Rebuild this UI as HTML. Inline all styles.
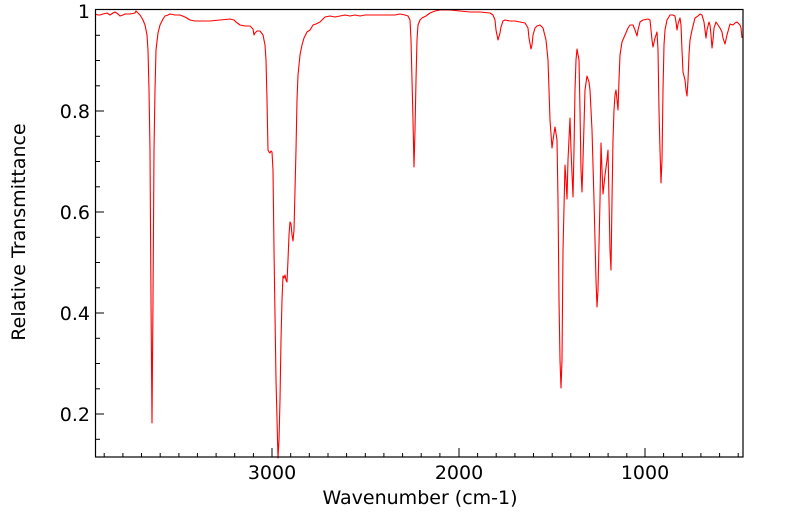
<!DOCTYPE html>
<html><head><meta charset="utf-8"><style>
html,body{margin:0;padding:0;background:#fff;}
svg{display:block;}
text{font-family:"DejaVu Sans","Liberation Sans",sans-serif;fill:#000;}
</style></head><body>
<svg width="799" height="516" viewBox="0 0 799 516" xmlns="http://www.w3.org/2000/svg">
<rect x="0" y="0" width="799" height="516" fill="#fff"/>
<polyline fill="none" stroke="#ff0000" stroke-width="1.1" stroke-linejoin="round" points="
95,14 98,15 100,15 103,14 107,13 110,15 113,13 115,12 118,14 120,16 123,15 125,14 130,14 135,13 136,11 138,13 140,15 143,20 145,25 147,35 148,50 149,90 150,150 151,300 152,423 153,300 154,150 155,90 156,50 158,33 160,25 163,19 165,16 168,15 170,14 175,15 180,15 185,17 190,20 195,21 200,21 210,21 220,20 230,19 234,20 236,22 240,25 245,26 250,26 253,29 254,35 255,33 257,31 260,31 263,35 265,45 266,60 267,100 268,150 269,152 270,153 271,151 272,152 273,170 274,250 276,380 278,458 279,440 280,400 281,340 282,300 283,276 284,278 285,275 286,280 287,282 288,260 289,235 290,222 291,224 292,235 293,241 294,230 295,190 296,150 297,100 298,75 300,55 302,45 304,38 307,32 310,30 313,25 316,24 320,22 325,17 330,16 335,17 340,16 345,15 350,16 355,15 360,16 365,15 370,15 375,15 380,15 385,15 390,15 395,15 400,14 405,15 408,16 410,20 411,40 412,80 413,120 414,167 415,130 416,80 417,40 418,25 420,20 422,18 426,16 430,13 435,11 440,10 450,10 460,11 470,12 480,12 490,13 493,15 495,20 496,30 498,40 500,33 501,27 503,21 505,20 510,21 515,21 520,22 525,23 528,28 529,38 531,49 532,45 533,35 535,28 537,26 540,25 543,28 546,40 548,60 549,90 550,120 552,148 553,140 555,127 557,140 558,200 559,300 560,360 561,388 562,360 563,250 565,165 566,180 567,199 568,160 570,118 571,150 573,197 574,150 575,90 576,60 577,49 579,60 580,110 581,170 582,192 583,160 585,90 587,76 589,82 590,90 592,130 594,200 596,280 597,307 598,290 600,200 601,143 602,170 603,194 605,175 607,160 608,150 609,200 610,250 611,270 612,200 613,140 614,110 615,95 616,90 617,100 618,110 619,80 620,55 622,42 625,35 628,28 630,25 633,25 635,30 637,36 638,30 640,22 643,20 648,19 650,20 651,30 652,40 653,47 655,38 657,32 658,50 659,110 660,150 661,183 662,160 663,90 664,45 665,30 667,20 670,15 673,15 675,16 676,22 677,30 678,24 680,18 681,25 682,50 683,72 684,76 685,80 686,90 687,96 688,80 689,55 690,40 692,30 695,18 698,16 700,14 702,15 704,22 706,38 707,30 709,22 710,25 711,35 712,48 713,40 714,28 716,22 718,25 720,28 722,32 723,38 725,44 727,35 730,24 733,25 735,23 737,22 739,24 740,25 741,28 742,38"/>
<g stroke="#000" stroke-width="1" fill="none">
<rect x="95.5" y="9.5" width="647.5" height="447.5" stroke-width="1.2"/>
</g>
<g stroke="#000" stroke-width="1">
<line x1="272" y1="457" x2="272" y2="448"/>
<line x1="459" y1="457" x2="459" y2="448"/>
<line x1="645" y1="457" x2="645" y2="448"/>
<line x1="104.2" y1="457" x2="104.2" y2="453"/>
<line x1="122.9" y1="457" x2="122.9" y2="453"/>
<line x1="141.5" y1="457" x2="141.5" y2="453"/>
<line x1="160.2" y1="457" x2="160.2" y2="453"/>
<line x1="178.9" y1="457" x2="178.9" y2="453"/>
<line x1="197.4" y1="457" x2="197.4" y2="453"/>
<line x1="216.1" y1="457" x2="216.1" y2="453"/>
<line x1="234.7" y1="457" x2="234.7" y2="453"/>
<line x1="253.4" y1="457" x2="253.4" y2="453"/>
<line x1="290.7" y1="457" x2="290.7" y2="453"/>
<line x1="309.3" y1="457" x2="309.3" y2="453"/>
<line x1="328" y1="457" x2="328" y2="453"/>
<line x1="346.6" y1="457" x2="346.6" y2="453"/>
<line x1="365.3" y1="457" x2="365.3" y2="453"/>
<line x1="383.9" y1="457" x2="383.9" y2="453"/>
<line x1="402.6" y1="457" x2="402.6" y2="453"/>
<line x1="421.2" y1="457" x2="421.2" y2="453"/>
<line x1="439.9" y1="457" x2="439.9" y2="453"/>
<line x1="477.6" y1="457" x2="477.6" y2="453"/>
<line x1="496.2" y1="457" x2="496.2" y2="453"/>
<line x1="514.9" y1="457" x2="514.9" y2="453"/>
<line x1="533.5" y1="457" x2="533.5" y2="453"/>
<line x1="552.2" y1="457" x2="552.2" y2="453"/>
<line x1="570.8" y1="457" x2="570.8" y2="453"/>
<line x1="589.5" y1="457" x2="589.5" y2="453"/>
<line x1="608.1" y1="457" x2="608.1" y2="453"/>
<line x1="626.8" y1="457" x2="626.8" y2="453"/>
<line x1="663.6" y1="457" x2="663.6" y2="453"/>
<line x1="682.3" y1="457" x2="682.3" y2="453"/>
<line x1="700.9" y1="457" x2="700.9" y2="453"/>
<line x1="719.6" y1="457" x2="719.6" y2="453"/>
<line x1="738.2" y1="457" x2="738.2" y2="453"/>
<line x1="95" y1="111" x2="104" y2="111"/>
<line x1="95" y1="212" x2="104" y2="212"/>
<line x1="95" y1="313" x2="104" y2="313"/>
<line x1="95" y1="414" x2="104" y2="414"/>
<line x1="95" y1="35.3" x2="100" y2="35.3"/>
<line x1="95" y1="60.5" x2="100" y2="60.5"/>
<line x1="95" y1="85.8" x2="100" y2="85.8"/>
<line x1="95" y1="136.3" x2="100" y2="136.3"/>
<line x1="95" y1="161.5" x2="100" y2="161.5"/>
<line x1="95" y1="186.8" x2="100" y2="186.8"/>
<line x1="95" y1="237.3" x2="100" y2="237.3"/>
<line x1="95" y1="262.5" x2="100" y2="262.5"/>
<line x1="95" y1="287.8" x2="100" y2="287.8"/>
<line x1="95" y1="338.3" x2="100" y2="338.3"/>
<line x1="95" y1="363.5" x2="100" y2="363.5"/>
<line x1="95" y1="388.8" x2="100" y2="388.8"/>
<line x1="95" y1="439.3" x2="100" y2="439.3"/>
</g>
<g font-size="19" text-anchor="end">
<text x="90" y="18">1</text>
<text x="90" y="118">0.8</text>
<text x="90" y="219">0.6</text>
<text x="90" y="320">0.4</text>
<text x="90" y="421">0.2</text>
</g>
<g font-size="19" text-anchor="middle">
<text x="272" y="479">3000</text>
<text x="459" y="479">2000</text>
<text x="645" y="479">1000</text>
<text x="420" y="504">Wavenumber (cm-1)</text>
<text transform="translate(25,232) rotate(-90)">Relative Transmittance</text>
</g>
</svg>
</body></html>
